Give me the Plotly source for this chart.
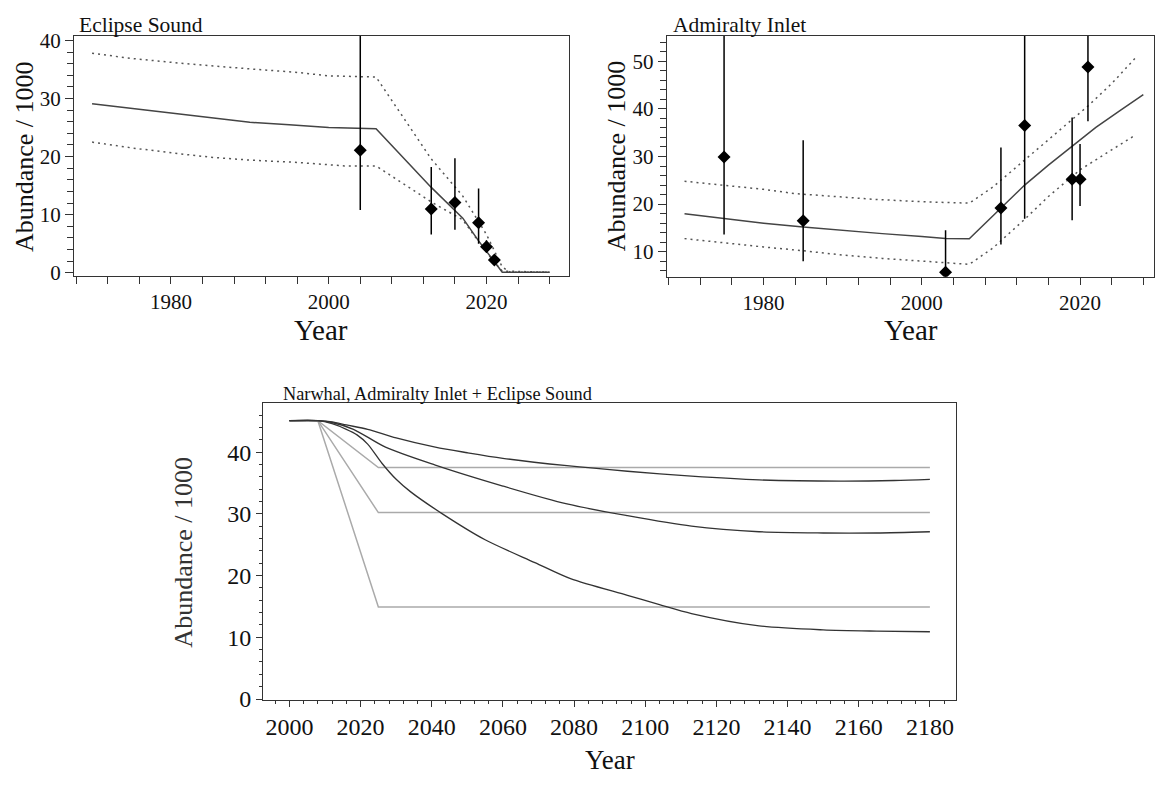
"""Narwhal abundance: Eclipse Sound, Admiralty Inlet and combined projections."""

import plotly.graph_objects as go

WIDTH, HEIGHT = 1155, 787
FONT = "Liberation Serif"
INK = "#111"

# Eclipse Sound (abundance / 1000)
ES_FIT_YEARS = [1970, 1975, 1980, 1985, 1990, 1995, 2000, 2006, 2013, 2017, 2019, 2022, 2028]
ES_FIT = [29.1, 28.3, 27.4, 26.6, 25.9, 25.5, 25.0, 24.8, 14.7, 9.4, 5.5, 0.1, 0.1]
ES_UP_YEARS = [1970, 1975, 1981, 1985, 1990, 1996, 2000, 2006, 2011, 2013, 2017, 2020, 2022, 2023, 2028]
ES_UP = [37.8, 36.9, 36.1, 35.6, 35.1, 34.5, 33.9, 33.7, 23.5, 19.6, 13.2, 6.6, 1.0, 0.1, 0.1]
ES_LO_YEARS = [1970, 1975, 1981, 1985, 1990, 1996, 2002, 2006, 2013, 2017, 2019, 2021, 2022, 2028]
ES_LO = [22.5, 21.5, 20.5, 19.9, 19.4, 19.0, 18.4, 18.4, 12.2, 9.1, 5.4, 1.8, 0.3, 0.1]
ES_OBS_YEARS = [2004, 2013, 2016, 2019, 2020, 2021]
ES_OBS = [21.1, 11.0, 12.1, 8.6, 4.5, 2.2]
ES_OBS_HI = [45.0, 18.2, 19.7, 14.5, 5.6, 2.8]
ES_OBS_LO = [10.8, 6.6, 7.4, 5.0, 3.6, 1.6]

# Admiralty Inlet (abundance / 1000)
AI_FIT_YEARS = [1970, 1975, 1980, 1985, 1991, 1995, 2000, 2003, 2006, 2010, 2013, 2016, 2019, 2022, 2025, 2028]
AI_FIT = [17.95, 16.9, 16.0, 15.2, 14.3, 13.8, 13.2, 12.8, 12.7, 19.1, 24.0, 28.2, 32.2, 36.1, 39.6, 43.0]
AI_UP_YEARS = [1970, 1975, 1980, 1984, 1990, 1994, 2000, 2006, 2009, 2013, 2017, 2021, 2024, 2027]
AI_UP = [24.8, 24.0, 23.1, 22.2, 21.5, 21.0, 20.5, 20.2, 23.6, 29.2, 34.8, 40.6, 45.3, 50.7]
AI_LO_YEARS = [1970, 1975, 1980, 1985, 1990, 1995, 2000, 2006, 2009, 2013, 2016, 2020, 2024, 2027]
AI_LO = [12.75, 11.8, 11.0, 10.2, 9.3, 8.6, 8.0, 7.35, 10.8, 16.8, 21.6, 27.2, 31.4, 34.5]
AI_OBS_YEARS = [1975, 1985, 2003, 2010, 2013, 2019, 2020, 2021]
AI_OBS = [29.9, 16.5, 5.7, 19.2, 36.5, 25.2, 25.2, 48.8]
AI_OBS_HI = [65.0, 33.4, 14.5, 31.9, 65.0, 38.2, 32.6, 65.0]
AI_OBS_LO = [13.6, 8.0, 2.0, 11.5, 16.9, 16.6, 19.6, 37.4]

# Combined projections (abundance / 1000)
PROJ_CURVE_YEARS = [
    [2000, 2008, 2012, 2016, 2022, 2030, 2041, 2050, 2060, 2078, 2095, 2113, 2132, 2155, 2170, 2180],
    [2000, 2008, 2012, 2018, 2027, 2041, 2060, 2078, 2095, 2113, 2132, 2150, 2165, 2180],
    [2000, 2008, 2012, 2016, 2019, 2022, 2026, 2030, 2034, 2043, 2055, 2069, 2079, 2095, 2104,
     2113, 2132, 2150, 2165, 2180],
]
PROJ_CURVES = [
    [45.1, 45.1, 44.9, 44.4, 43.7, 42.3, 40.8, 39.9, 39.0, 37.8, 36.9, 36.1, 35.5, 35.3, 35.4, 35.6],
    [45.1, 45.1, 44.8, 43.7, 40.8, 37.9, 34.5, 31.6, 29.7, 28.0, 27.1, 26.9, 26.9, 27.1],
    [45.1, 45.1, 44.6, 43.7, 42.8, 41.3, 38.2, 35.6, 33.6, 30.0, 25.8, 22.1, 19.5, 16.8, 15.3,
     13.85, 11.85, 11.2, 11.0, 10.9],
]
PROJ_FLAT_YEARS = [2000, 2008, 2025, 2180]
PROJ_FLATS = [
    [45.1, 45.1, 37.5, 37.5],
    [45.1, 45.1, 30.2, 30.2],
    [45.1, 45.1, 14.9, 14.9],
]


def _px_x(px):
    return px / WIDTH


def _px_y(py):
    return 1 - py / HEIGHT


def _axis(**kwargs):
    base = dict(
        showline=True, linecolor="#333", linewidth=1, mirror=True,
        ticks="outside", tickcolor="#333", ticklen=7, tickwidth=1,
        showgrid=False, zeroline=False,
        tickfont=dict(family=FONT, size=21, color=INK),
    )
    base.update(kwargs)
    return base


def _panel_traces(fig, xa, ya, fit, up, lo, obs):
    for band in (up, lo):
        fig.add_trace(go.Scatter(x=band[0], y=band[1], mode="lines", xaxis=xa, yaxis=ya,
                                 line=dict(color="#555", width=1.5, dash="2px,4px")))
    fig.add_trace(go.Scatter(x=fit[0], y=fit[1], mode="lines", xaxis=xa, yaxis=ya,
                             line=dict(color="#444", width=1.5)))
    years, est, hi, low = obs
    fig.add_trace(go.Scatter(
        x=years, y=est, mode="markers", xaxis=xa, yaxis=ya,
        marker=dict(symbol="diamond", size=10, color="black"),
        error_y=dict(type="data", symmetric=False,
                     array=[h - e for h, e in zip(hi, est)],
                     arrayminus=[e - l for e, l in zip(est, low)],
                     color="black", thickness=1.5, width=0),
    ))


fig = go.Figure()

_panel_traces(fig, "x", "y", (ES_FIT_YEARS, ES_FIT), (ES_UP_YEARS, ES_UP), (ES_LO_YEARS, ES_LO),
              (ES_OBS_YEARS, ES_OBS, ES_OBS_HI, ES_OBS_LO))
_panel_traces(fig, "x2", "y2", (AI_FIT_YEARS, AI_FIT), (AI_UP_YEARS, AI_UP), (AI_LO_YEARS, AI_LO),
              (AI_OBS_YEARS, AI_OBS, AI_OBS_HI, AI_OBS_LO))

for flat in PROJ_FLATS:
    fig.add_trace(go.Scatter(x=PROJ_FLAT_YEARS, y=flat, mode="lines", xaxis="x3", yaxis="y3",
                             line=dict(color="#aaaaaa", width=1.5)))
for years, curve in zip(PROJ_CURVE_YEARS, PROJ_CURVES):
    fig.add_trace(go.Scatter(x=years, y=curve, mode="lines", xaxis="x3", yaxis="y3",
                             line=dict(color="#333", width=1.3, shape="spline", smoothing=0.8)))

minor_x = dict(tick0=1968, dtick=4, ticks="outside", ticklen=7, tickcolor="#333")
minor_y = dict(tick0=0, dtick=2, ticks="outside", ticklen=6, tickcolor="#333")

fig.update_layout(
    width=WIDTH, height=HEIGHT, autosize=False, showlegend=False,
    margin=dict(l=0, r=0, t=0, b=0),
    paper_bgcolor="white", plot_bgcolor="white",
    font=dict(family=FONT, color=INK),
    xaxis=_axis(domain=[_px_x(74), _px_x(569)], range=[1967.7, 2030.4], anchor="y",
                tickvals=[1980, 2000, 2020], minor=minor_x),
    yaxis=_axis(domain=[_px_y(276), _px_y(29.3)], range=[-0.55, 40.84], anchor="x",
                tickvals=[0, 10, 20, 30, 40], ticklen=8, minor=minor_y),
    xaxis2=_axis(domain=[_px_x(667.3), 1.0], range=[1967.75, 2029.35], anchor="y2",
                 tickvals=[1980, 2000, 2020], minor=minor_x),
    yaxis2=_axis(domain=[_px_y(276.7), _px_y(29.3)], range=[4.76, 55.4], anchor="x2",
                 tickvals=[10, 20, 30, 40, 50], ticklen=8, minor=minor_y),
    xaxis3=_axis(domain=[_px_x(263.3), _px_x(956.7)], range=[1992.6, 2187.3], anchor="y3",
                 tickvals=list(range(2000, 2181, 20)), ticklen=6,
                 tickfont=dict(family=FONT, size=24, color=INK),
                 minor=dict(tick0=2000, dtick=4, ticks="outside", ticklen=3, tickcolor="#333")),
    yaxis3=_axis(domain=[_px_y(710.7), _px_y(406.7)], range=[-0.1, 47.9], anchor="x3",
                 tickvals=[0, 10, 20, 30, 40], ticklen=6,
                 tickfont=dict(family=FONT, size=24, color=INK),
                 minor=dict(tick0=0, dtick=2, ticks="outside", ticklen=3, tickcolor="#333")),
)

annotations = [
    # panel titles
    dict(text="Eclipse Sound", x=_px_x(77), y=_px_y(18), xanchor="left", font_size=21.5),
    dict(text="Admiralty Inlet", x=_px_x(672), y=_px_y(18), xanchor="left", font_size=21.5),
    dict(text="Narwhal, Admiralty Inlet + Eclipse Sound", x=_px_x(281), y=_px_y(396.7),
         xanchor="left", font_size=18.3),
    # axis titles
    dict(text="Abundance / 1000", x=_px_x(24), y=_px_y(153), textangle=-90, font_size=26),
    dict(text="Abundance / 1000", x=_px_x(616.7), y=_px_y(153), textangle=-90, font_size=26),
    dict(text="Abundance / 1000", x=_px_x(184), y=_px_y(559), textangle=-90, font_size=26,
         color="#333"),
    dict(text="Year", x=_px_x(321), y=_px_y(331), font_size=29),
    dict(text="Year", x=_px_x(912), y=_px_y(331), font_size=29),
    dict(text="Year", x=_px_x(611), y=_px_y(773), font_size=27),
]
for ann in annotations:
    ann.setdefault("xanchor", "center")
    ann.setdefault("yanchor", "middle")
    font = dict(family=FONT, color=ann.pop("color", INK), size=ann.pop("font_size"))
    fig.add_annotation(xref="paper", yref="paper", showarrow=False, font=font, **ann)

# the page body has a default 8px margin; drop it so the figure sits at the window origin
fig.write_html("out.html", config={"displayModeBar": False, "responsive": False},
               post_script="document.body.style.margin = '0';")
